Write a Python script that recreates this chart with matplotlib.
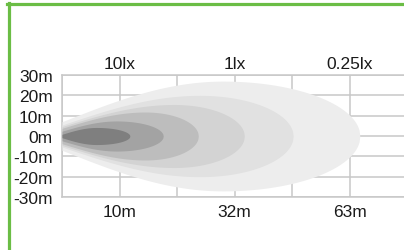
import numpy as np
import matplotlib
matplotlib.use('Agg')
import matplotlib.pyplot as plt
from matplotlib.lines import Line2D

plt.rcParams['font.family'] = ['Liberation Sans', 'DejaVu Sans']

# beam layers, innermost first (x in grid units, half-width in m)
reach = [1.18, 1.76, 2.37, 3.17, 4.02, 5.18]
peak_x = [0.60, 0.95, 1.45, 1.95, 2.40, 2.80]
half_w = [4.2, 7.4, 11.8, 15.5, 20.0, 27.0]
nose = [0.2, 0.32, 0.32, 0.30, 0.27, 0.26]
colors = ['#7f7f7f', '#a3a3a3', '#bdbdbd', '#d3d3d3', '#e1e1e1', '#ededed']

y_ticks = [30, 20, 10, 0, -10, -20, -30]
y_labels = ['30m', '20m', '10m', '0m', '-10m', '-20m', '-30m']
x_labels = ['', '10m', '', '32m', '', '63m', '']
lux_labels = ['', '10lx', '', '1lx', '', '0.25lx', '']


def profile(R, cx, H, n):
    x = np.linspace(0, R, 400)
    w = np.where(x <= cx,
                 H * (n + (1 - n) * np.sin(np.pi / 2 * np.clip(x / cx, 0, 1))),
                 H * np.sqrt(np.clip(1 - ((x - cx) / (R - cx)) ** 2, 0, 1)))
    return x, w


fig = plt.figure(figsize=(4.04, 2.51), dpi=100)
ax = fig.add_axes([62 / 404, 53 / 251, 345 / 404, 122 / 251])

for i in reversed(range(len(reach))):
    x, w = profile(reach[i], peak_x[i], half_w[i], nose[i])
    ax.fill_between(x, -w, w, color=colors[i], lw=0, zorder=2)

ax.set_xlim(0, 6)
ax.set_ylim(-30, 30)
ax.set_xticks(range(7))
ax.set_xticklabels(x_labels)
ax.set_yticks(y_ticks)
ax.set_yticklabels(y_labels)
ax.grid(True, color='#c8c8c8', lw=1.1, zorder=0)
ax.set_axisbelow(True)
for s in ax.spines.values():
    s.set_color('#c8c8c8')
    s.set_linewidth(1.1)
    s.set_zorder(0.5)
ax.tick_params(length=0, labelsize=12.5, colors='#1a1a1a')
ax.tick_params(axis='y', pad=6.5)
ax.tick_params(axis='x', pad=5)

top = ax.secondary_xaxis('top')
top.set_xticks(range(7))
top.set_xticklabels(lux_labels)
top.tick_params(length=0, labelsize=12.5, colors='#1a1a1a', pad=3)
top.spines['top'].set_visible(False)

# green frame
fig.add_artist(Line2D([8.5 / 404, 8.5 / 404], [0, 1 - 4 / 251], color='#6bbd45', lw=2.3))
fig.add_artist(Line2D([7 / 404, 1], [1 - 5 / 251, 1 - 5 / 251], color='#6bbd45', lw=2.3))

fig.savefig('out.png', dpi=100, facecolor='white')
